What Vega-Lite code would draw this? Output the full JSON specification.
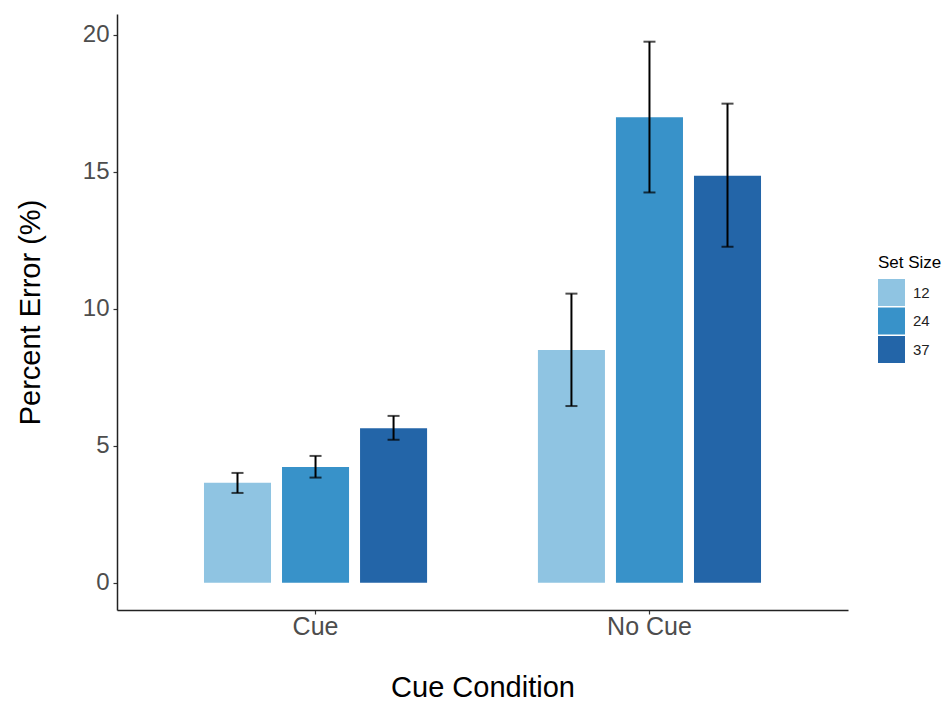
{
  "$schema": "https://vega.github.io/schema/vega-lite/v6.json",
  "autosize": {"type": "none"},
  "padding": {"left": 117, "top": 14, "right": 100, "bottom": 96},
  "width": 731,
  "height": 596,
  "config": {
    "view": {"stroke": null},
    "font": "Liberation Sans",
    "axis": {"grid": false}
  },
  "data": {
    "values": [
      {"cond": "Cue", "size": "12", "mean": 3.65, "lo": 3.28, "hi": 4.01},
      {"cond": "Cue", "size": "24", "mean": 4.23, "lo": 3.84, "hi": 4.63},
      {"cond": "Cue", "size": "37", "mean": 5.64, "lo": 5.22, "hi": 6.09},
      {"cond": "No Cue", "size": "12", "mean": 8.49, "lo": 6.45, "hi": 10.55},
      {"cond": "No Cue", "size": "24", "mean": 16.98, "lo": 14.24, "hi": 19.74},
      {"cond": "No Cue", "size": "37", "mean": 14.85, "lo": 12.26, "hi": 17.48}
    ]
  },
  "encoding": {
    "x": {
      "field": "cond", "type": "nominal",
      "scale": {"domain": ["Cue", "No Cue"], "paddingInner": 0.299, "paddingOuter": 0.244},
      "axis": {
        "title": "Cue Condition", "titleFontSize": 29, "titleFontWeight": "normal", "titleColor": "#000000",
        "titlePadding": 34,
        "labelFontSize": 25, "labelColor": "#4D4D4D", "labelAngle": 0, "labelPadding": 0,
        "domainColor": "#222222", "domainWidth": 1.5, "tickColor": "#333333", "tickSize": 4, "tickWidth": 1.2
      }
    },
    "xOffset": {
      "field": "size", "type": "nominal",
      "scale": {"domain": ["12", "24", "37"], "paddingInner": 0.141, "paddingOuter": 0.0705}
    }
  },
  "layer": [
    {
      "mark": {"type": "bar"},
      "encoding": {
        "y": {
          "field": "mean", "type": "quantitative",
          "scale": {"domain": [-0.99, 20.75], "nice": false, "zero": false},
          "axis": {
            "title": "Percent Error (%)", "titleFontSize": 29, "titleFontWeight": "normal", "titleColor": "#000000",
            "titlePadding": 37,
            "values": [0, 5, 10, 15, 20],
            "labelFontSize": 24, "labelColor": "#4D4D4D", "labelPadding": 4,
            "domainColor": "#222222", "domainWidth": 1.5, "tickColor": "#333333", "tickSize": 4, "tickWidth": 1.2
          }
        },
        "y2": {"datum": 0},
        "color": {
          "field": "size", "type": "nominal",
          "scale": {"domain": ["12", "24", "37"], "range": ["#8FC4E2", "#3892C9", "#2365A8"]},
          "legend": {
            "title": "Set Size", "titleFontSize": 17, "titleFontWeight": "normal", "titleColor": "#000000",
            "titlePadding": 7,
            "labelFontSize": 15, "labelColor": "#222222",
            "symbolType": "square", "symbolSize": 729, "symbolStrokeWidth": 0, "symbolOpacity": 1,
            "rowPadding": 1.5, "labelOffset": 8,
            "orient": "none", "legendX": 761, "legendY": 241
          }
        }
      }
    },
    {
      "mark": {"type": "rule", "color": "#000000", "strokeWidth": 2},
      "encoding": {
        "y": {"field": "lo", "type": "quantitative"},
        "y2": {"field": "hi"}
      }
    },
    {
      "mark": {"type": "tick", "color": "#000000", "thickness": 2, "size": 12, "orient": "horizontal"},
      "encoding": {
        "y": {"field": "lo", "type": "quantitative"}
      }
    },
    {
      "mark": {"type": "tick", "color": "#000000", "thickness": 2, "size": 12, "orient": "horizontal"},
      "encoding": {
        "y": {"field": "hi", "type": "quantitative"}
      }
    }
  ]
}
